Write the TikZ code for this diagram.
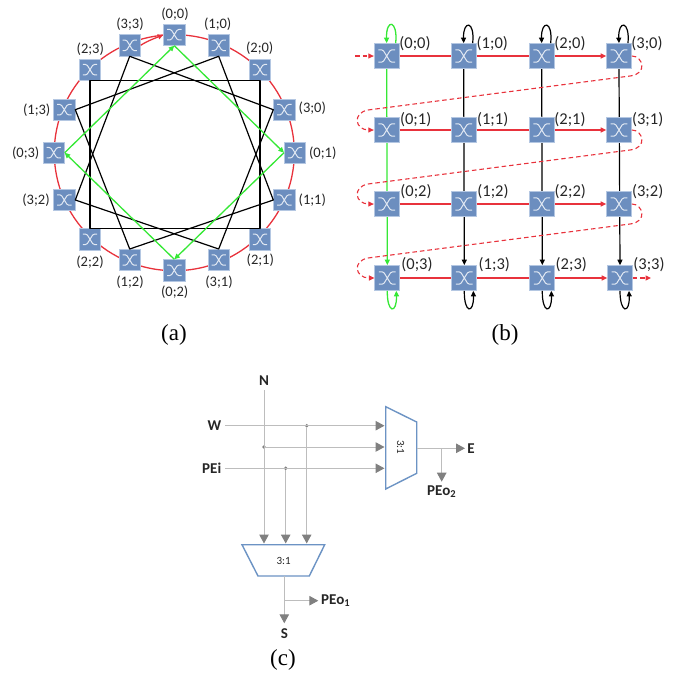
\documentclass[tikz,border=0pt]{standalone}
\usepackage{fontspec}
\setmainfont{Carlito}
\newfontfamily\capfont{Liberation Serif}
\usetikzlibrary{arrows.meta,backgrounds}
\definecolor{swblue}{HTML}{6C8EBF}
\definecolor{swedge}{HTML}{B4C7E2}
\definecolor{netred}{HTML}{E8323C}
\definecolor{netgreen}{HTML}{35E835}
\definecolor{glyphline}{HTML}{E2E9F3}
\definecolor{wiregray}{HTML}{BDBDBD}
\definecolor{tipgray}{HTML}{808080}
\definecolor{muxblue}{HTML}{6C93C4}
\definecolor{inktext}{HTML}{262626}
\tikzset{
  swbox/.style={rectangle,draw=swedge,line width=.7pt,fill=swblue,inner sep=0pt,minimum size=#1},
  swx/.pic={
    \draw[glyphline,line width=1pt,rounded corners=1.2pt]
      (-.8,.58) -- (-.36,.58) -- (.36,-.58) -- (.8,-.58)
      (-.8,-.58) -- (-.36,-.58) -- (.36,.58) -- (.8,.58);
  },
  lab/.style={font=\fontsize{14.5}{14.5}\selectfont,text=inktext,inner sep=0pt},
  labb/.style={font=\fontsize{16.5}{16.5}\selectfont,text=inktext,inner sep=0pt},
  captext/.style={font=\capfont\fontsize{23}{23}\selectfont,text=black,inner sep=0pt},
  redl/.style={draw=netred,line width=1.3pt},
  smallred/.style={redl,-{Triangle[length=5.5pt,width=5pt]}},
  reddash/.style={draw=netred,line width=1.1pt,dash pattern=on 4.5pt off 3pt,-{Triangle[length=5.5pt,width=5pt]}},
  blk/.style={draw=black,line width=1.2pt},
  blkarrow/.style={blk,-{Triangle[length=5.5pt,width=5pt]}},
  grn/.style={draw=netgreen,line width=1.3pt},
  grnarrow/.style={grn,-{Triangle[length=5.5pt,width=5pt]}},
  wire/.style={draw=wiregray,line width=1pt},
  wirearrow/.style={wire,-{Triangle[length=9pt,width=9.5pt,color=tipgray]}},
  wdot/.style={circle,fill=tipgray,inner sep=0pt,minimum size=3.8pt},
  mux/.style={draw=muxblue,line width=1.4pt,fill=white},
  sig/.style={font=\bfseries\fontsize{15}{15}\selectfont,text=inktext,inner sep=0pt},
  muxlab/.style={font=\fontsize{11}{11}\selectfont,text=inktext,inner sep=0pt},
}
\begin{document}
\begin{tikzpicture}[x=1pt,y=-1pt]
\useasboundingbox (0,0) rectangle (675,675);

% ---------- (a) ring
\foreach \n/\x/\y/\lx/\ly/\t in {
 a00/174.3/34.7/175/14/(0;0),
 a10/218.7/45.3/217.7/24.3/(1;0),
 a20/260/69.7/259.7/48.3/(2;0),
 a30/284.3/109.7/312.3/108.3/(3;0),
 a01/295/152.7/322.7/152.7/(0;1),
 a11/284.3/200/312.3/200/(1;1),
 a21/260/239.3/260.3/260/(2;1),
 a31/218.7/260/219/281.7/(3;1),
 a02/174.3/270.3/174.7/292.3/(0;2),
 a12/129.7/260/130/281.7/(1;2),
 a22/90/239.3/90/261.7/(2;2),
 a32/64.3/200/36/200/(3;2),
 a03/53.7/152.7/25.7/152.7/(0;3),
 a13/64.3/109.7/36.7/109.7/(1;3),
 a23/90/69.7/90.3/49/(2;3),
 a33/129.7/45.3/130/24/(3;3)}{
  \node[swbox=21.3pt] (\n) at (\x,\y) {};
  \pic[scale=9] at (\n.center) {swx};
  \node[lab] (l\n) at (\lx,\ly) {\t};
}
\begin{pgfonlayer}{background}
  \draw[redl] (174.3,152.7) ellipse [x radius=120,y radius=118];
\end{pgfonlayer}
\draw[smallred] (a33.east) .. controls (147,41) and (158,37) .. (a00.west);
\draw[blk,line join=round] (a23.south) -- (a20.south) -- (a21.north) -- (a22.north) -- cycle;
\draw[blk,line join=round] (a33.south) -- (a30.west) -- (a31.north) -- (a32.east) -- cycle;
\draw[blk,line join=round] (a10.south) -- (a13.east) -- (a12.north) -- (a11.west) -- cycle;
\draw[grnarrow] (a03.east) -- (a00.south);
\draw[grnarrow] (a00.south) -- (a01.west);
\draw[grnarrow] (a01.west) -- (a02.north);
\draw[grnarrow] (a02.north) -- (a03.east);
\node[captext] (capa) at (174,335) {(a)};

% ---------- (b) mesh
\foreach \n/\x/\y/\lx/\ly/\t in {
 b00/386.7/56/415/43.3/(0;0),
 b10/463.7/56/492.3/43.3/(1;0),
 b20/541.7/56/570/43.3/(2;0),
 b30/619/56/647/43.3/(3;0),
 b01/386.7/130/415.7/119.3/(0;1),
 b11/463.7/130/492.7/119.3/(1;1),
 b21/541.7/130/570/119.3/(2;1),
 b31/619/130/647.7/119.3/(3;1),
 b02/386.7/204/416/191.3/(0;2),
 b12/463.7/204/493/191.3/(1;2),
 b22/541.7/204/570.3/191.3/(2;2),
 b32/619/204/647.7/191.3/(3;2),
 b03/387.3/278/417/265/(0;3),
 b13/464.3/278/494.3/265/(1;3),
 b23/542.3/278/571.3/265/(2;3),
 b33/620/278/649/265/(3;3)}{
  \node[swbox=25pt] (\n) at (\x,\y) {};
  \pic[scale=10.5] at (\n.center) {swx};
  \node[labb] (l\n) at (\lx,\ly) {\t};
}
\begin{pgfonlayer}{background}
  \draw[grnarrow] (b00.south) -- (b03.north);
  \draw[blkarrow] (b10.south) -- (b13.north);
  \draw[blkarrow] (b20.south) -- (b23.north);
  \draw[blkarrow] (b30.south) -- (b33.north);
\end{pgfonlayer}
\foreach \r in {0,1,2,3}{
  \draw[redl] (b0\r.east) -- (b1\r.west);
  \draw[redl] (b1\r.east) -- (b2\r.west);
  \draw[smallred] (b2\r.east) -- (b3\r.west);
}
% dashed serpentine
\coordinate (entry) at (355,56);
\coordinate (exit) at (651,278);
\draw[reddash] (entry) -- (b00.west);
\draw[reddash] (b33.east) -- (exit);
\draw[reddash] (b30.east) .. controls (643,56) and (648,74) .. (630,76) -- (368,110) .. controls (352,113) and (355,130) .. (b01.west);
\draw[reddash] (b31.east) .. controls (643,130) and (648,148) .. (630,150) -- (368,184) .. controls (352,187) and (355,204) .. (b02.west);
\draw[reddash] (b32.east) .. controls (643,204) and (648,222) .. (630,224) -- (368,258) .. controls (352,261) and (355,278) .. (b03.west);
% self loops
\draw[grnarrow] ([xshift=9pt]b00.north) .. controls (398,20) and (386,18) .. (b00.north);
\draw[blkarrow] ([xshift=9pt]b10.north) .. controls (475,20) and (463,20) .. (b10.north);
\draw[blkarrow] ([xshift=9pt]b20.north) .. controls (553,20) and (541,20) .. (b20.north);
\draw[blkarrow] ([xshift=9pt]b30.north) .. controls (630,20) and (618,20) .. (b30.north);
\draw[grnarrow] (b03.south) .. controls (387,314) and (397,314) .. ([xshift=9pt]b03.south);
\draw[blkarrow] (b13.south) .. controls (464,314) and (474,314) .. ([xshift=9pt]b13.south);
\draw[blkarrow] (b23.south) .. controls (542,314) and (552,314) .. ([xshift=9pt]b23.south);
\draw[blkarrow] (b33.south) .. controls (620,314) and (630,314) .. ([xshift=9pt]b33.south);
\node[captext] (capb) at (505,335) {(b)};

% ---------- (c) muxes
\node[sig] (N) at (264,380.7) {N};
\node[sig] (W) at (214.3,425.3) {W};
\node[sig] (PEi) at (211.7,468.3) {PEi};
\node[sig] (E) at (471,448.5) {E};
\node[sig] (PEo2) at (441.7,492) {PEo\textsubscript{2}};
\node[sig,anchor=west] (PEo1) at (321,600.7) {PEo\textsubscript{1}};
\node[sig] (S) at (284.3,633.3) {S};
\coordinate (Nt) at (264,390);
\coordinate (Wt) at (225,425.7);
\coordinate (Pt) at (225,468.3);
\node[wdot] (d1) at (306.7,425.7) {};
\node[wdot] (d2) at (264,447) {};
\node[wdot] (d3) at (285.7,468.3) {};
\coordinate (nm1) at (264,543.5);
\coordinate (nm2) at (285.7,543.5);
\coordinate (nm3) at (306.7,543.5);
\coordinate (em1) at (384.5,425.7);
\coordinate (em2) at (384.5,447);
\coordinate (em3) at (384.5,468.3);
\draw[mux] (385.7,406.7) -- (416.7,422) -- (416.7,473.3) -- (385.7,489) -- cycle;
\draw[mux] (242,544.7) -- (324.7,544.7) -- (309.3,576) -- (258,576) -- cycle;
\node[muxlab,rotate=-90] (m1) at (400.7,447.3) {3:1};
\node[muxlab] (m2) at (283.7,561.3) {3:1};
\draw[wirearrow] (Nt) -- (nm1);
\draw[wirearrow] (d3) -- (nm2);
\draw[wirearrow] (d1) -- (nm3);
\draw[wirearrow] (Wt) -- (em1);
\draw[wirearrow] (d2) -- (em2);
\draw[wirearrow] (Pt) -- (em3);
\coordinate (eo) at (416.7,448.3);
\coordinate (et) at (465,448.3);
\coordinate (eb) at (441.7,448.3);
\coordinate (ebt) at (441.7,481.7);
\draw[wirearrow] (eo) -- (et);
\draw[wirearrow] (eb) -- (ebt);
\coordinate (so) at (284.3,576);
\coordinate (st) at (284.3,623.3);
\coordinate (sb) at (284.3,600.7);
\coordinate (sbt) at (318.3,600.7);
\draw[wirearrow] (so) -- (st);
\draw[wirearrow] (sb) -- (sbt);
\node[captext] (capc) at (283,660) {(c)};
\end{tikzpicture}
\end{document}
